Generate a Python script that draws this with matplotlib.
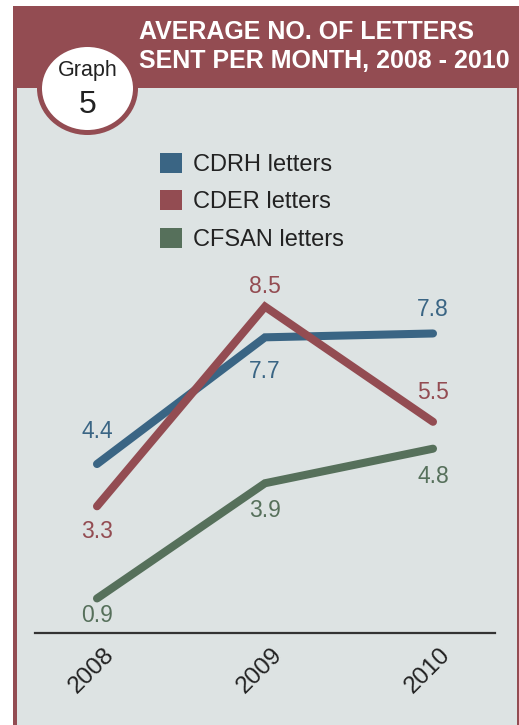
## Average number of letters sent per month, 2008 - 2010 (Graph 5)

import matplotlib
matplotlib.use("Agg")
import matplotlib.pyplot as plt
from matplotlib.patches import Rectangle, Ellipse, Patch
from matplotlib.transforms import ScaledTranslation

plt.rcParams['font.family'] = ['Liberation Sans', 'DejaVu Sans']

######################
#####  DATA  #########
######################

years = [2008, 2009, 2010]
series_names = ['CDRH letters', 'CDER letters', 'CFSAN letters']
cdrh = [4.4, 7.7, 7.8]
cder = [3.3, 8.5, 5.5]
cfsan = [0.9, 3.9, 4.8]
title_lines = ['AVERAGE NO. OF LETTERS', 'SENT PER MONTH, 2008 - 2010']

# colours
maroon = '#934c52'
blue = '#3a6584'
green = '#56705b'
panel = '#dde3e3'
textdark = '#222222'

# label offsets in pixels (positive = down), one per point
offsets = [[-33, 34, -24],
           [25, -20, -29],
           [17, 27, 28]]

W, H = 519, 725
fig = plt.figure(figsize=(W/100, H/100), dpi=100)
fig.patch.set_facecolor('white')

######################
#### frame + header ##
######################
bg = fig.add_axes([0, 0, 1, 1])
bg.set_xlim(0, W)
bg.set_ylim(H, 0)
bg.axis('off')

bg.add_patch(Rectangle((13, 6), W - 13, H - 6, facecolor=maroon, edgecolor='none'))
bg.add_patch(Rectangle((17, 88), 500, H - 88, facecolor=panel, edgecolor='none'))
bg.add_patch(Ellipse((87.5, 88.5), 96, 88, facecolor='white', edgecolor=maroon, lw=3.6))
bg.text(87.5, 70, 'Graph', ha='center', va='center', fontsize=15.5, color=textdark)
bg.text(87.5, 105, '5', ha='center', va='center', fontsize=23, color=textdark)

bg.text(139, 32, title_lines[0], ha='left', va='center', fontsize=18,
        fontweight='bold', color='white')
bg.text(139, 61, title_lines[1], ha='left', va='center', fontsize=18,
        fontweight='bold', color='white')

######################
#### main chart ######
######################
# pixel geometry of plot area
x0px, x1px = 35, 495
ybase, ytop = 633, 140
xscale = (433 - 97) / 2.0
yscale = 38.4

ax = fig.add_axes([x0px / W, (H - ybase) / H, (x1px - x0px) / W, (ybase - ytop) / H])
ax.set_facecolor('none')
ax.set_xlim(2008 - (97 - x0px) / xscale, 2010 + (x1px - 433) / xscale)
ax.set_ylim(0, (ybase - ytop) / yscale)

all_series = [cdrh, cder, cfsan]
colors = [blue, maroon, green]

for vals, col, offs in zip(all_series, colors, offsets):
    ax.plot(years, vals, color=col, lw=5.8, solid_capstyle='round',
            solid_joinstyle='miter')
    for x, v, o in zip(years, vals, offs):
        ax.annotate('%.1f' % v, (x, v), xytext=(0, -o * 0.72), textcoords='offset points',
                    ha='center', va='center', fontsize=16.5, color=col)

for s in ['top', 'right', 'left']:
    ax.spines[s].set_visible(False)
ax.spines['bottom'].set_color('#333333')
ax.spines['bottom'].set_linewidth(1.6)
ax.set_yticks([])
ax.set_xticks(years)
ax.set_xticklabels([str(y) for y in years], rotation=45, ha='center',
                   fontsize=17.5, color=textdark)
ax.tick_params(axis='x', length=0, pad=8)
for lab in ax.get_xticklabels():
    lab.set_transform(lab.get_transform() + ScaledTranslation(-5.5 / 100, 0, fig.dpi_scale_trans))

handles = [Patch(facecolor=c, edgecolor='none') for c in colors]
ax.legend(handles, series_names, loc='upper left', bbox_to_anchor=(160 / W, 1 - 153 / H),
          bbox_transform=fig.transFigure, frameon=False, borderaxespad=0, borderpad=0,
          fontsize=17, handlelength=0.93, handleheight=0.93, handletextpad=0.47,
          labelspacing=0.6, labelcolor=textdark)

fig.savefig('out.png', dpi=100)
